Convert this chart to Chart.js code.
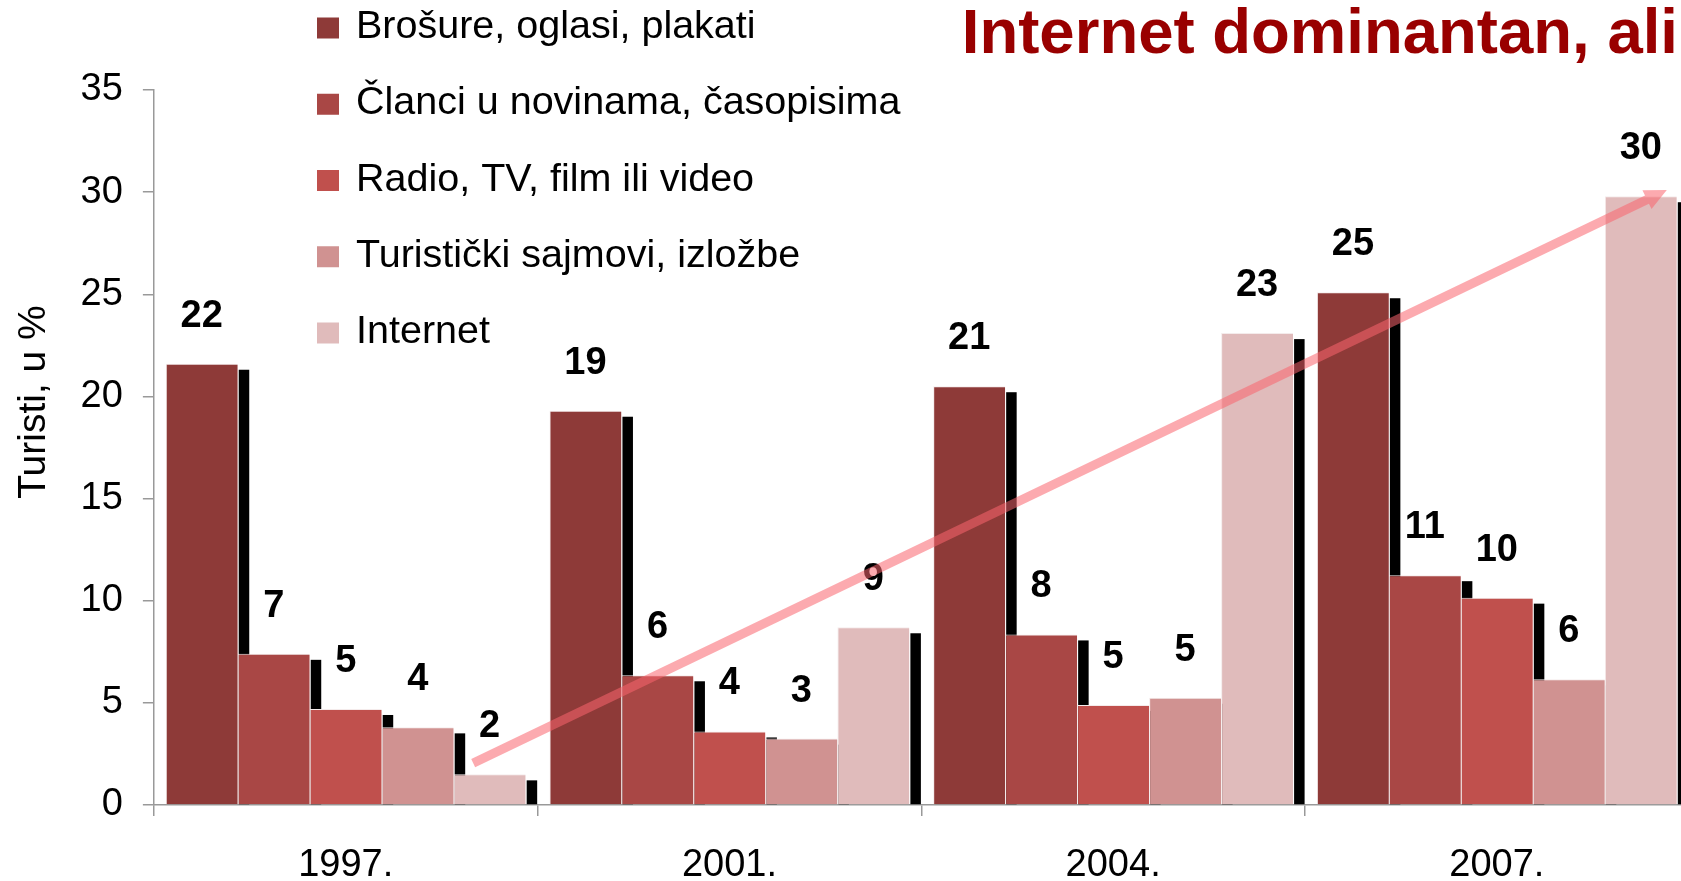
<!DOCTYPE html>
<html>
<head>
<meta charset="utf-8">
<title>Internet dominantan, ali</title>
<script src="https://cdn.jsdelivr.net/npm/chart.js@4.4.1/dist/chart.umd.min.js"></script>
<style>
  html, body { margin: 0; padding: 0; background: #fff; overflow: hidden; }
  #wrap { position: relative; width: 1690px; height: 921px; }
</style>
</head>
<body>
<div id="wrap"><canvas id="mycanvas"></canvas></div>
<script>
// years on the x axis
var years = ["1997.", "2001.", "2004.", "2007."];

// tourists, in %
var brosure = [21.6, 19.3, 20.5, 25.1];
var clanci = [7.4, 6.35, 8.35, 11.25];
var radio = [4.7, 3.6, 4.9, 10.15];
var sajmovi = [3.8, 3.25, 5.25, 6.15];
var internet = [1.5, 8.7, 23.1, 29.8];

var seriesNames = [
  "Brošure, oglasi, plakati",
  "Članci u novinama, časopisima",
  "Radio, TV, film ili video",
  "Turistički sajmovi, izložbe",
  "Internet"
];
var seriesColors = ["#8e3a38", "#a94745", "#c0504d", "#d09291", "#e0bbbb"];

var yMin = 0, yMax = 35, yStep = 5;
var yTitle = "Turisti, u %";
var chartTitle = "Internet dominantan, ali";

// internet trend arrow: from 1997 to 2007
var arrowValues = [2.05, 30.1];

var FONT = "'Liberation Sans', Arial, sans-serif";
Chart.defaults.font.family = FONT;
Chart.defaults.color = "#000";

// black drop shadow right of every bar, drawn before the bars
var shadowPlugin = {
  id: "barShadows",
  beforeDatasetsDraw: function(chart) {
    var ctx = chart.ctx;
    ctx.save();
    ctx.fillStyle = "#000";
    chart.data.datasets.forEach(function(ds, i) {
      chart.getDatasetMeta(i).data.forEach(function(bar) {
        var p = bar.getProps(["x", "y", "base", "width"], true);
        var top = p.y + 6;
        ctx.fillRect(p.x + p.width / 2 + 1, top, 10.5, p.base - top);
      });
    });
    ctx.restore();
  }
};

var labelPlugin = {
  id: "valueLabels",
  afterDatasetsDraw: function(chart) {
    var ctx = chart.ctx;
    ctx.save();
    ctx.font = "bold 38px " + FONT;
    ctx.fillStyle = "#000";
    ctx.textAlign = "center";
    ctx.textBaseline = "alphabetic";
    chart.data.datasets.forEach(function(ds, i) {
      chart.getDatasetMeta(i).data.forEach(function(bar, j) {
        ctx.fillText(Math.round(ds.data[j]), bar.x, bar.y - 37);
      });
    });

    // the pink arrow over the internet bars
    var meta = chart.getDatasetMeta(4);
    var yScale = chart.scales.y;
    var first = meta.data[0], last = meta.data[meta.data.length - 1];
    var sx = first.x - 16.5, sy = yScale.getPixelForValue(arrowValues[0]);
    var tx = last.x + 26, ty = yScale.getPixelForValue(arrowValues[1]);
    var dx = tx - sx, dy = ty - sy, len = Math.sqrt(dx * dx + dy * dy);
    var ux = dx / len, uy = dy / len, nx = -uy, ny = ux;
    var bx = tx - ux * 22, by = ty - uy * 22;
    var h = 4.5, H = 10.5;
    ctx.fillStyle = "rgba(250, 100, 110, 0.55)";
    ctx.beginPath();
    ctx.moveTo(sx + nx * h, sy + ny * h);
    ctx.lineTo(bx + nx * h, by + ny * h);
    ctx.lineTo(bx + nx * H, by + ny * H);
    ctx.lineTo(tx, ty);
    ctx.lineTo(bx - nx * H, by - ny * H);
    ctx.lineTo(bx - nx * h, by - ny * h);
    ctx.lineTo(sx - nx * h, sy - ny * h);
    ctx.closePath();
    ctx.fill();
    ctx.restore();
  }
};

// title, legend and y title sit over the plot like in the slide
var textPlugin = {
  id: "slideTexts",
  afterDraw: function(chart) {
    var ctx = chart.ctx;
    ctx.save();

    ctx.font = "bold 63.5px " + FONT;
    ctx.fillStyle = "#990000";
    ctx.textAlign = "right";
    ctx.textBaseline = "alphabetic";
    ctx.fillText(chartTitle, 1678, 53);

    ctx.font = "39.5px " + FONT;
    ctx.textAlign = "left";
    chart.data.datasets.forEach(function(ds, i) {
      var cy = 28 + i * 76.25;
      ctx.fillStyle = ds.backgroundColor;
      ctx.fillRect(317, cy - 10.5, 22, 21);
      ctx.fillStyle = "#000";
      ctx.fillText(ds.label, 356, cy + 10);
    });

    ctx.font = "39px " + FONT;
    ctx.translate(34, 402);
    ctx.rotate(-Math.PI / 2);
    ctx.textAlign = "center";
    ctx.textBaseline = "middle";
    ctx.fillText(yTitle, 0, 0);
    ctx.restore();
  }
};

var allSeries = [brosure, clanci, radio, sajmovi, internet];
var datasets = [];
for (var i in allSeries) {
  datasets.push({
    label: seriesNames[i],
    data: allSeries[i],
    backgroundColor: seriesColors[i],
    borderColor: "#f4ebeb",
    borderWidth: { top: 1, left: 1, right: 0, bottom: 0 },
    borderSkipped: false,
    barPercentage: 1,
    categoryPercentage: 0.938
  });
}

var ctx = document.getElementById("mycanvas");
var chart = new Chart(ctx, {
  type: "bar",
  data: { labels: years, datasets: datasets },
  options: {
    responsive: true,
    maintainAspectRatio: false,
    animation: false,
    layout: { padding: { top: 90, left: 60.6, right: 1.3, bottom: 5.4 } },
    plugins: {
      legend: { display: false },
      title: { display: false },
      tooltip: { enabled: false }
    },
    scales: {
      x: {
        grid: { drawOnChartArea: false, tickLength: 11, color: "#999", lineWidth: 1.5 },
        border: { color: "#999", width: 1.5 },
        ticks: { font: { size: 38 }, padding: 27, color: "#000" }
      },
      y: {
        min: yMin,
        max: yMax,
        grid: { drawOnChartArea: false, tickLength: 11, color: "#999", lineWidth: 1.5 },
        border: { color: "#999", width: 1.5 },
        ticks: { stepSize: yStep, font: { size: 38 }, padding: 20, color: "#000" }
      }
    }
  },
  plugins: [shadowPlugin, labelPlugin, textPlugin]
});
</script>
</body>
</html>
